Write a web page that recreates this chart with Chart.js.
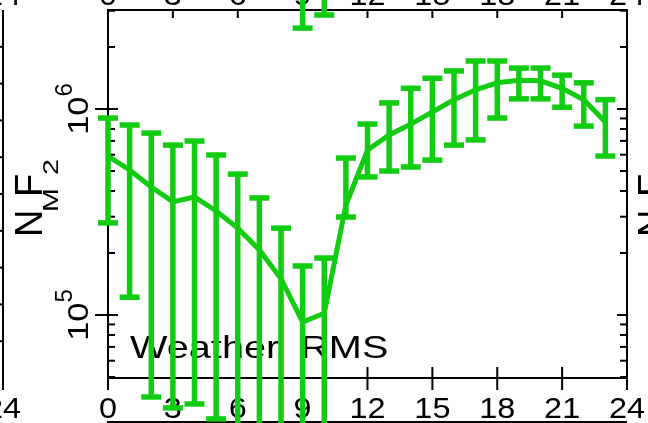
<!DOCTYPE html>
<html>
<head>
<meta charset="utf-8">
<script src="https://cdn.jsdelivr.net/npm/chart.js@4.4.1/dist/chart.umd.min.js"></script>
<style>
  html, body { margin: 0; padding: 0; background: #fff; overflow: hidden; }
  #wrap { position: relative; width: 648px; height: 423px; }
</style>
</head>
<body>
<div id="wrap"><canvas id="c" width="648" height="423"></canvas></div>
<script>
// Local time (hours) and NmF2 statistics, electrons per m^3
const hours     = [0, 1, 2, 3, 4, 5, 6, 7, 8, 9, 10, 11, 12, 13, 14, 15, 16, 17, 18, 19, 20, 21, 22, 23];
const meanNmF2  = [5.91e5, 5.06e5, 4.18e5, 3.54e5, 3.74e5, 3.20e5, 2.64e5, 2.07e5, 1.50e5, 9.25e4, 1.02e5, 3.42e5,
                   6.32e5, 7.48e5, 8.45e5, 9.67e5, 1.11e6, 1.24e6, 1.34e6, 1.38e6, 1.37e6, 1.26e6, 1.11e6, 8.65e5];
const upperNmF2 = [9.04e5, 8.36e5, 7.64e5, 6.68e5, 6.99e5, 5.98e5, 4.83e5, 3.70e5, 2.64e5, 1.73e5, 1.89e5, 5.78e5,
                   8.45e5, 1.07e6, 1.26e6, 1.41e6, 1.53e6, 1.71e6, 1.71e6, 1.58e6, 1.58e6, 1.46e6, 1.34e6, 1.11e6];
const lowerNmF2 = [2.80e5, 1.22e5, 4.00e4, 3.54e4, 3.70e4, 3.13e4, 2.20e4, 1.80e4, 1.40e4, 8.0e3, 8.0e3, 2.99e5,
                   4.68e5, 5.00e5, 5.23e5, 5.65e5, 6.68e5, 7.08e5, 9.04e5, 1.12e6, 1.12e6, 1.02e6, 8.26e5, 5.91e5];

// Lower ends of the error bars hanging down from the panel above (hours 9 and 10)
const abovePanelHours = [9, 10];
const abovePanelLower = [2.47e6, 2.86e6];

// Axes
const xTicks      = [0, 3, 6, 9, 12, 15, 18, 21, 24];
const yDecades    = [1e5, 1e6];
const yMinorTicks = [5e4, 6e4, 7e4, 8e4, 9e4, 2e5, 3e5, 4e5, 5e5, 6e5, 7e5, 8e5, 9e5, 2e6, 3e6];
const yMin = 4.945e4, yMax = 3.024e6;
const panelTitle = 'Weather RMS';
const yTitle = [['N', 0], ['M', 1], ['F', 0], ['2', 1]];   // [text, subscript?]

const GREEN = '#12cc12';
const INK = '#000';
const FONT = '"Liberation Sans", Arial, Helvetica, sans-serif';
const PANEL_PITCH = 624;   // horizontal spacing between neighbouring panels

function seg(ctx, x1, y1, x2, y2) {
  ctx.beginPath(); ctx.moveTo(x1, y1); ctx.lineTo(x2, y2); ctx.stroke();
}

// Text drawn with a horizontal stretch; returns the drawn advance width
function wideText(ctx, str, x, y, size, sx, align) {
  ctx.save();
  ctx.font = size + 'px ' + FONT;
  const w = ctx.measureText(str).width * sx;
  let x0 = x;
  if (align === 'center') x0 = x - w / 2;
  else if (align === 'right') x0 = x - w;
  ctx.translate(x0, y);
  ctx.scale(sx, 1);
  ctx.textAlign = 'left';
  ctx.textBaseline = 'alphabetic';
  ctx.fillText(str, 0, 0);
  ctx.restore();
  return w;
}

function textWidth(ctx, str, size, sx) {
  ctx.save(); ctx.font = size + 'px ' + FONT;
  const w = ctx.measureText(str).width * sx;
  ctx.restore();
  return w;
}

// Rotated axis title "N_M F_2", baseline at bx, starting at by and reading upward
function drawYTitle(ctx, bx, by) {
  const offsets = [0, 25, 40, 62];
  ctx.save();
  ctx.translate(bx, by);
  ctx.rotate(-Math.PI / 2);
  ctx.fillStyle = INK;
  yTitle.forEach(([t, sub], i) => {
    if (sub) wideText(ctx, t, offsets[i], 16, 22, 1.3, 'left');
    else wideText(ctx, t, offsets[i], 0, 38, 1.0, 'left');
  });
  ctx.restore();
}

const framePlugin = {
  id: 'frame',
  beforeDatasetsDraw(chart) {
    const { ctx, chartArea: a, scales: { x: xs, y: ys } } = chart;
    ctx.save();
    ctx.strokeStyle = INK;
    ctx.fillStyle = INK;
    ctx.lineWidth = 2;

    // plot box
    ctx.strokeRect(a.left, a.top, a.right - a.left, a.bottom - a.top);

    // x ticks: crossing the bottom axis, inward on the top axis
    xTicks.forEach(t => {
      const px = xs.getPixelForValue(t);
      seg(ctx, px, a.bottom - 11, px, a.bottom + 12);
      seg(ctx, px, a.top, px, a.top + 8);
    });

    // y ticks (log): majors cross the left axis, minors point inward
    yDecades.forEach(v => {
      const py = ys.getPixelForValue(v);
      seg(ctx, a.left - 13, py, a.left + 10, py);
      seg(ctx, a.right - 10, py, a.right, py);
    });
    yMinorTicks.forEach(v => {
      const py = ys.getPixelForValue(v);
      seg(ctx, a.left, py, a.left + 7, py);
      seg(ctx, a.right - 7, py, a.right, py);
    });

    // x tick labels, bottom and top
    xTicks.forEach(t => {
      const px = xs.getPixelForValue(t);
      wideText(ctx, String(t), px, a.bottom + 40, 30, 1.08, 'center');
      wideText(ctx, String(t), px, a.top - 5, 30, 1.08, 'center');
    });

    // y tick labels 10^n, rotated
    yDecades.forEach(v => {
      const py = ys.getPixelForValue(v);
      const exp = String(Math.round(Math.log10(v)));
      const wBase = textWidth(ctx, '10', 30, 1.15);
      const wSup = textWidth(ctx, exp, 24, 1.0);
      const start = -(wBase + wSup) / 2;
      ctx.save();
      ctx.translate(a.left - 20, py);
      ctx.rotate(-Math.PI / 2);
      wideText(ctx, '10', start, 0, 30, 1.15, 'left');
      wideText(ctx, exp, start + wBase, -16, 24, 1.0, 'left');
      ctx.restore();
    });

    // axis title and neighbouring panel's title
    drawYTitle(ctx, a.left - 66, 237);
    drawYTitle(ctx, a.left - 66 + PANEL_PITCH - 1, 237);

    // panel annotation
    ctx.save();
    ctx.wordSpacing = '8px';
    wideText(ctx, panelTitle, a.left + 22, a.bottom - 20, 32, 1.24, 'left');
    ctx.restore();

    // neighbouring panels: right edge of the left panel, top axis of the panel below
    const lx = a.right - PANEL_PITCH;
    seg(ctx, lx, a.top, lx, a.bottom + 12);
    for (let k = 1; k < 10; k++) {
      const py = a.top + (a.bottom - a.top) * k / 10;
      seg(ctx, lx - 4, py, lx, py);
    }
    wideText(ctx, '24', lx, a.bottom + 40, 30, 1.08, 'center');
    wideText(ctx, '24', lx, a.top - 5, 30, 1.08, 'center');
    seg(ctx, a.left - 1, a.bottom + 44, a.right, a.bottom + 44);

    ctx.restore();
  },
  afterDatasetsDraw(chart) {
    const { ctx, scales: { x: xs, y: ys } } = chart;
    ctx.save();
    ctx.strokeStyle = GREEN;
    ctx.lineWidth = 5.5;
    ctx.lineCap = 'butt';
    const cap = 10;
    hours.forEach((h, i) => {
      const px = xs.getPixelForValue(h);
      const yHi = ys.getPixelForValue(upperNmF2[i]);
      const yLo = ys.getPixelForValue(lowerNmF2[i]);
      seg(ctx, px, yHi, px, yLo);
      seg(ctx, px - cap, yHi, px + cap, yHi);
      seg(ctx, px - cap, yLo, px + cap, yLo);
    });
    // bars reaching down from the panel above
    abovePanelHours.forEach((h, i) => {
      const px = xs.getPixelForValue(h);
      const yLo = ys.getPixelForValue(abovePanelLower[i]);
      seg(ctx, px, 0, px, yLo);
      seg(ctx, px - cap, yLo, px + cap, yLo);
    });
    ctx.restore();
  }
};

new Chart(document.getElementById('c'), {
  type: 'line',
  data: {
    datasets: [{
      data: hours.map((h, i) => ({ x: h, y: meanNmF2[i] })),
      borderColor: GREEN,
      borderWidth: 5,
      pointRadius: 0,
      tension: 0,
      fill: false,
      clip: false
    }]
  },
  options: {
    responsive: false,
    animation: false,
    devicePixelRatio: 1,
    layout: { padding: { left: 108, right: 21, top: 10, bottom: 45 } },
    plugins: { legend: { display: false }, tooltip: { enabled: false } },
    scales: {
      x: { type: 'linear', min: 0, max: 24, display: false },
      y: { type: 'logarithmic', min: yMin, max: yMax, display: false }
    }
  },
  plugins: [framePlugin]
});
</script>
</body>
</html>
